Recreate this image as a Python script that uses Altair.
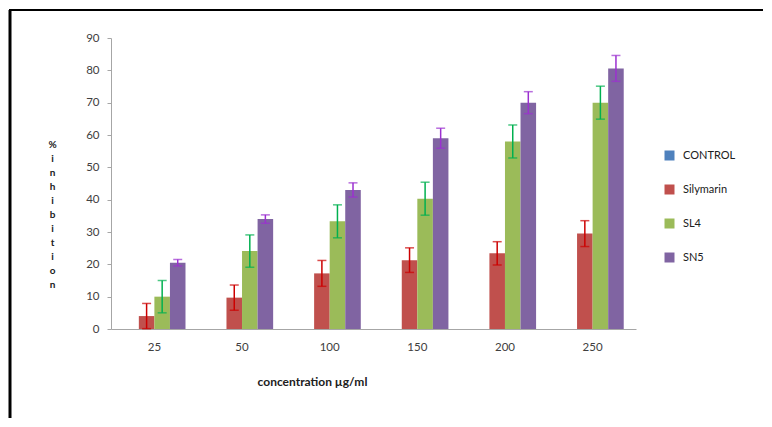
import altair as alt
import pandas as pd

concentrations = ["25", "50", "100", "150", "200", "250"]
series = ["CONTROL", "Silymarin", "SL4", "SN5"]
colors = ["#4F81BD", "#C0504D", "#9BBB59", "#8064A2"]
err_colors = ["#4F81BD", "#CC0000", "#00B050", "#9B30D0"]
y_ticks = [0, 10, 20, 30, 40, 50, 60, 70, 80, 90]

control = [0, 0, 0, 0, 0, 0]
silymarin = [4.0, 9.7, 17.2, 21.3, 23.4, 29.5]
silymarin_err = [3.9, 3.9, 4.0, 3.8, 3.6, 4.0]
sl4 = [10.0, 24.1, 33.3, 40.3, 58.0, 70.0]
sl4_err = [5.0, 5.0, 5.1, 5.1, 5.1, 5.1]
sn5 = [20.5, 34.0, 43.0, 59.0, 70.0, 80.6]
sn5_err = [1.0, 1.3, 2.2, 3.1, 3.4, 4.0]

rows = []
for name, vals, errs, ec in [
    ("CONTROL", control, None, err_colors[0]),
    ("Silymarin", silymarin, silymarin_err, err_colors[1]),
    ("SL4", sl4, sl4_err, err_colors[2]),
    ("SN5", sn5, sn5_err, err_colors[3]),
]:
    for i, c in enumerate(concentrations):
        e = errs[i] if errs else None
        rows.append({
            "conc": c, "series": name, "value": vals[i],
            "lo": vals[i] - e if e is not None else None,
            "hi": vals[i] + e if e is not None else None,
            "ecolor": ec,
        })
df = pd.DataFrame(rows)
err_df = df.dropna(subset=["lo"])

FONT = "Lato"

x_axis = alt.Axis(
    title="concentration µg/ml", labelAngle=0, labelPadding=12, grid=False,
    labelFontSize=11.5, labelColor="#404040", labelFont=FONT, ticks=False,
    domainColor="#A6A6A6",
    titleFont=FONT, titleFontSize=12, titleFontWeight="bold", titleColor="#202020",
    titleX=201, titleY=52, titleBaseline="middle", titleAlign="center",
)
y_axis = alt.Axis(
    values=y_ticks, grid=False, labelOverlap=False,
    labelFlush=False, labelBound=False,
    title=list("%inhibition"), titleAngle=0, titleX=-59, titleY=106,
    titleAlign="center", titleBaseline="middle", titleLineHeight=14,
    titleFont=FONT, titleFontSize=10, titleFontWeight="bold", titleColor="#202020",
    labelFont=FONT, labelFontSize=11.5, labelColor="#404040", labelPadding=8,
    domainColor="#A6A6A6", tickColor="#A6A6A6", tickSize=4,
)
x_scale = alt.Scale(paddingInner=0.29, paddingOuter=0.14)
y_scale = alt.Scale(domain=[0, 90])


def xenc():
    return alt.X("conc:N", sort=concentrations, scale=x_scale, axis=x_axis)


def xoenc():
    return alt.XOffset("series:N", sort=series, scale=alt.Scale(paddingInner=0, paddingOuter=0))


bars = alt.Chart(df).mark_bar().encode(
    x=xenc(),
    xOffset=xoenc(),
    y=alt.Y("value:Q", scale=y_scale, axis=y_axis),
    color=alt.Color(
        "series:N", sort=series, scale=alt.Scale(domain=series, range=colors),
        legend=alt.Legend(
            title=None, orient="none", legendX=553, legendY=112,
            symbolType="square", symbolSize=100, symbolStrokeWidth=0,
            labelFont=FONT, labelFontSize=11, labelColor="#202020",
            rowPadding=22, labelOffset=8,
        ),
    ),
)

rules = alt.Chart(err_df).mark_rule(strokeWidth=1.5).encode(
    x=xenc(),
    xOffset=xoenc(),
    y=alt.Y("lo:Q", scale=y_scale, axis=y_axis), y2="hi:Q",
    stroke=alt.Stroke("ecolor:N", scale=None),
)
caps_hi = alt.Chart(err_df).mark_tick(orient="horizontal", size=9, thickness=1.5).encode(
    x=xenc(),
    xOffset=xoenc(),
    y=alt.Y("hi:Q", scale=y_scale, axis=y_axis),
    fill=alt.Fill("ecolor:N", scale=None),
)
caps_lo = alt.Chart(err_df).mark_tick(orient="horizontal", size=9, thickness=1.5).encode(
    x=xenc(),
    xOffset=xoenc(),
    y=alt.Y("lo:Q", scale=y_scale, axis=y_axis),
    fill=alt.Fill("ecolor:N", scale=None),
)

frame_df = pd.DataFrame({"k": [0]})
frame_left = alt.Chart(frame_df).mark_rule(color="black", strokeWidth=3).encode(
    x=alt.value(-101), y=alt.value(-28), y2=alt.value(380)
)
frame_top = alt.Chart(frame_df).mark_rule(color="black", strokeWidth=2).encode(
    x=alt.value(-102), x2=alt.value(652), y=alt.value(-28)
)

chart = alt.layer(bars, rules, caps_hi, caps_lo, frame_left, frame_top).properties(
    width=525, height=291, background="white",
    padding={"left": 0, "top": 0, "right": 0, "bottom": 0},
).configure_view(
    stroke="transparent", strokeWidth=0, strokeOpacity=0
).configure_axis(grid=False)

chart.save("out.html", embed_options={"renderer": "svg", "actions": False})
